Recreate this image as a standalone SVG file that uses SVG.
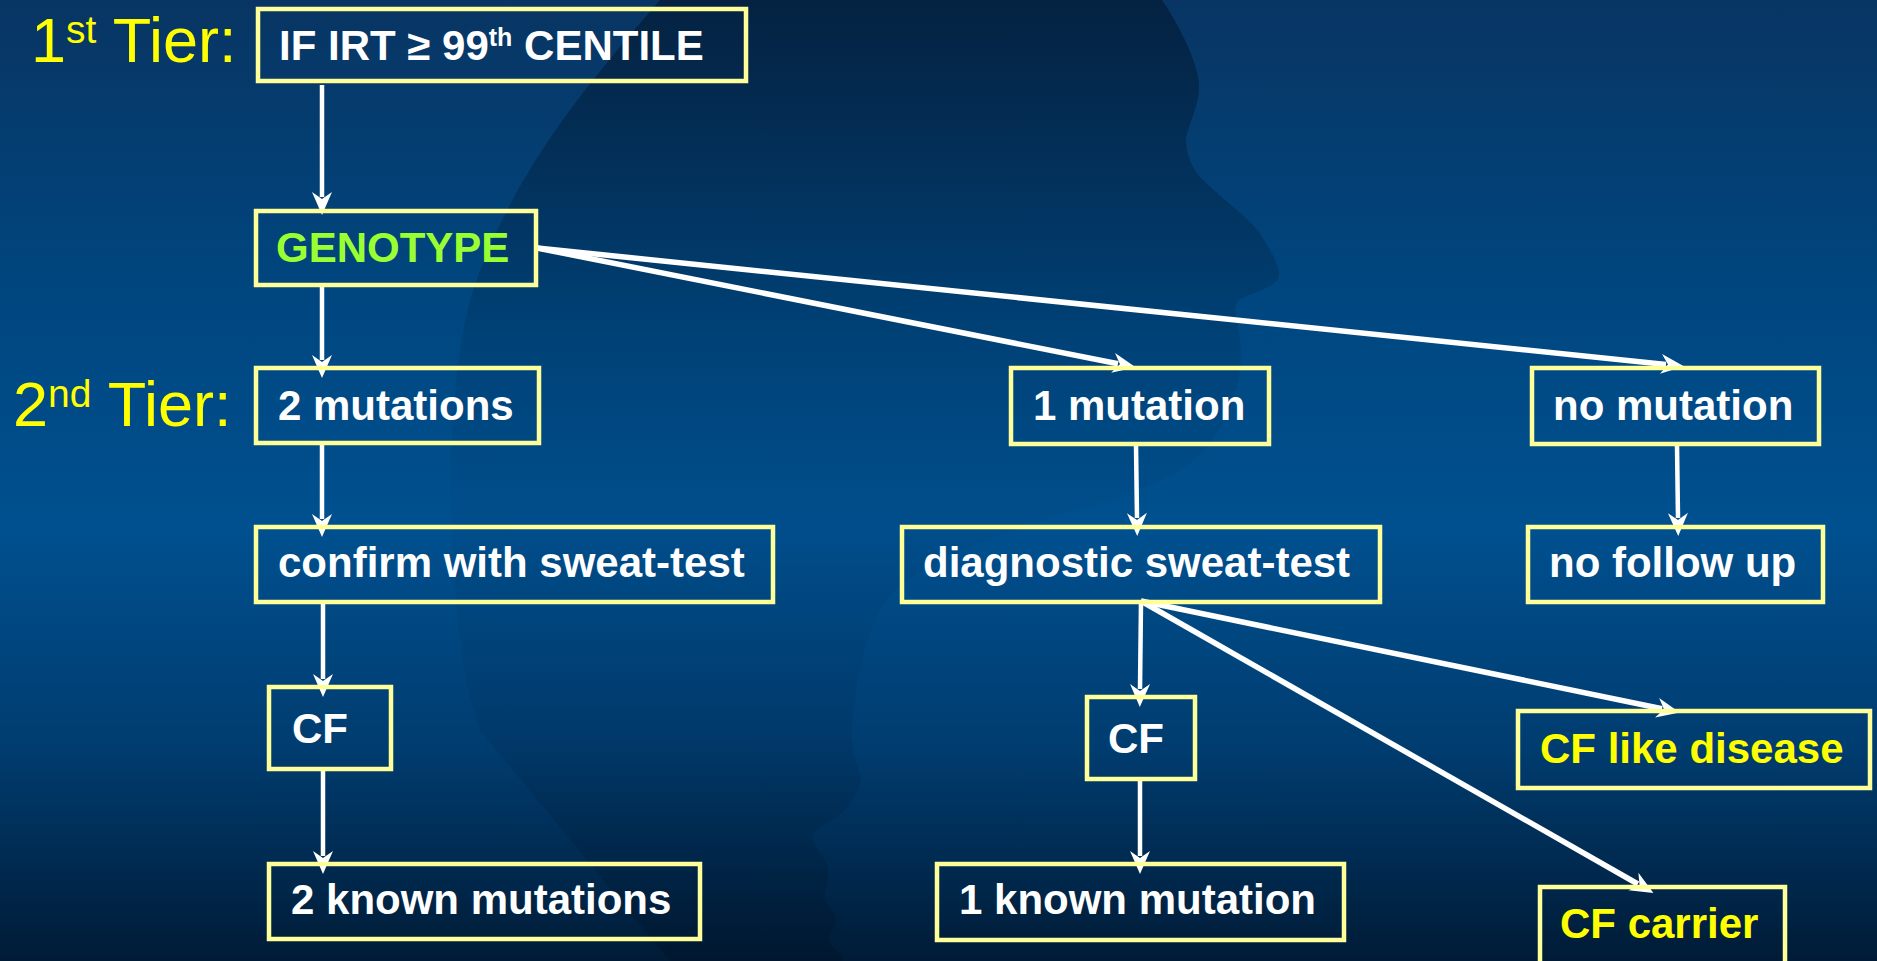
<svg xmlns="http://www.w3.org/2000/svg" width="1877" height="961" viewBox="0 0 1877 961">
<defs>
<linearGradient id="bg" x1="0" y1="0" x2="0" y2="1">
<stop offset="0" stop-color="#083563"/>
<stop offset="0.3" stop-color="#00467f"/>
<stop offset="0.55" stop-color="#00508f"/>
<stop offset="0.78" stop-color="#003c6f"/>
<stop offset="1" stop-color="#001b36"/>
</linearGradient>
<linearGradient id="sil" x1="0" y1="0" x2="0" y2="961" gradientUnits="userSpaceOnUse">
<stop offset="0" stop-color="#000814" stop-opacity="0.42"/>
<stop offset="0.2" stop-color="#000814" stop-opacity="0.24"/>
<stop offset="0.36" stop-color="#000814" stop-opacity="0.1"/>
<stop offset="0.52" stop-color="#000814" stop-opacity="0.03"/>
<stop offset="0.75" stop-color="#000814" stop-opacity="0.07"/>
<stop offset="1" stop-color="#000814" stop-opacity="0.2"/>
</linearGradient>
<marker id="ah" viewBox="0 -11 26 22" refX="8" refY="0" markerWidth="26" markerHeight="22" markerUnits="userSpaceOnUse" orient="auto">
<path d="M26,0 L3,-10 L10,0 L3,10 Z" fill="#ffffff"/>
</marker>
<style>
.box{fill:none;stroke:#ffff99;stroke-width:4.5}
.t{font-family:"Liberation Sans",Arial,sans-serif;font-weight:bold;font-size:42px;fill:#ffffff}
.g{fill:#99ff33}
.y{fill:#ffff00}
.tier{font-family:"Liberation Sans",Arial,sans-serif;font-size:63px;fill:#ffff00}
.c{fill:none;stroke:#ffffff;stroke-width:4.5;marker-end:url(#ah)}
.d{stroke-width:5.5}
</style>
</defs>
<rect width="1877" height="961" fill="url(#bg)"/>
<path d="M660,0 C600,70 510,170 470,300 C445,400 445,560 468,690 L480,730 L670,961 L842,961 C847,955 830,948 828,940 C832,930 838,922 835,915 C828,905 822,898 825,890 C830,880 829,870 826,862 C818,850 810,842 814,832 C830,820 848,812 852,800 C858,790 862,783 860,775 C856,760 850,745 852,727 C856,680 865,640 880,610 C900,575 960,545 1060,515 C1130,495 1175,480 1200,455 C1230,420 1245,380 1240,340 C1238,320 1232,310 1238,300 C1255,292 1278,286 1279,276 C1280,265 1270,250 1260,233 C1245,215 1230,205 1205,182 C1192,170 1186,155 1186,138 C1190,120 1200,105 1199,82 C1196,60 1182,30 1162,0 Z" fill="url(#sil)"/>
<g id="labels">
<text class="tier" x="31" y="62">1<tspan font-size="39" dy="-19">st</tspan><tspan dy="19"> Tier:</tspan></text>
<text class="tier" x="13" y="426">2<tspan font-size="39" dy="-19">nd</tspan><tspan dy="19"> Tier:</tspan></text>
</g>
<g id="connectors">
<line class="c" x1="322" y1="85" x2="322" y2="197"/>
<line class="c" x1="322" y1="287" x2="322" y2="360"/>
<line class="c" x1="322" y1="445" x2="322" y2="519"/>
<line class="c" x1="323" y1="603" x2="323" y2="679"/>
<line class="c" x1="323" y1="770" x2="323" y2="856"/>
<line class="c d" x1="537" y1="248" x2="1118" y2="363.8"/>
<line class="c d" x1="537" y1="248" x2="1666" y2="364.4"/>
<line class="c" x1="1136" y1="445" x2="1137" y2="518"/>
<line class="c" x1="1677" y1="445" x2="1678" y2="518"/>
<line class="c" x1="1141" y1="602" x2="1140" y2="689"/>
<line class="c d" x1="1141" y1="601" x2="1662" y2="708.8"/>
<line class="c d" x1="1141" y1="601" x2="1637.8" y2="884"/>
<line class="c" x1="1140" y1="779" x2="1140" y2="856"/>
</g>
<g id="n-irt"><rect class="box" x="258" y="9" width="488" height="72"/><text class="t" x="279" y="60">IF IRT ≥ 99<tspan font-size="25" dy="-14">th</tspan><tspan dy="14"> CENTILE</tspan></text></g>
<g id="n-genotype"><rect class="box" x="256" y="211" width="280" height="74"/><text class="t g" x="276" y="262">GENOTYPE</text></g>
<g id="n-2mut"><rect class="box" x="256" y="368" width="283" height="75"/><text class="t" x="278" y="420">2 mutations</text></g>
<g id="n-confirm"><rect class="box" x="256" y="527" width="517" height="75"/><text class="t" x="278" y="577">confirm with sweat-test</text></g>
<g id="n-cf1"><rect class="box" x="269" y="687" width="122" height="82"/><text class="t" x="292" y="743">CF</text></g>
<g id="n-2known"><rect class="box" x="269" y="864" width="431" height="75"/><text class="t" x="291" y="914">2 known mutations</text></g>
<g id="n-1mut"><rect class="box" x="1011" y="368" width="258" height="76"/><text class="t" x="1033" y="420">1 mutation</text></g>
<g id="n-nomut"><rect class="box" x="1532" y="368" width="287" height="76"/><text class="t" x="1553" y="420">no mutation</text></g>
<g id="n-diag"><rect class="box" x="902" y="527" width="478" height="75"/><text class="t" x="923" y="577">diagnostic sweat-test</text></g>
<g id="n-nofollow"><rect class="box" x="1528" y="527" width="295" height="75"/><text class="t" x="1549" y="577">no follow up</text></g>
<g id="n-cf2"><rect class="box" x="1087" y="697" width="108" height="82"/><text class="t" x="1108" y="753">CF</text></g>
<g id="n-1known"><rect class="box" x="937" y="864" width="407" height="76"/><text class="t" x="959" y="914">1 known mutation</text></g>
<g id="n-cflike"><rect class="box" x="1518" y="711" width="352" height="77"/><text class="t y" x="1540" y="763">CF like disease</text></g>
<g id="n-carrier"><rect class="box" x="1540" y="887" width="245" height="80"/><text class="t y" x="1560" y="938">CF carrier</text></g>
</svg>
